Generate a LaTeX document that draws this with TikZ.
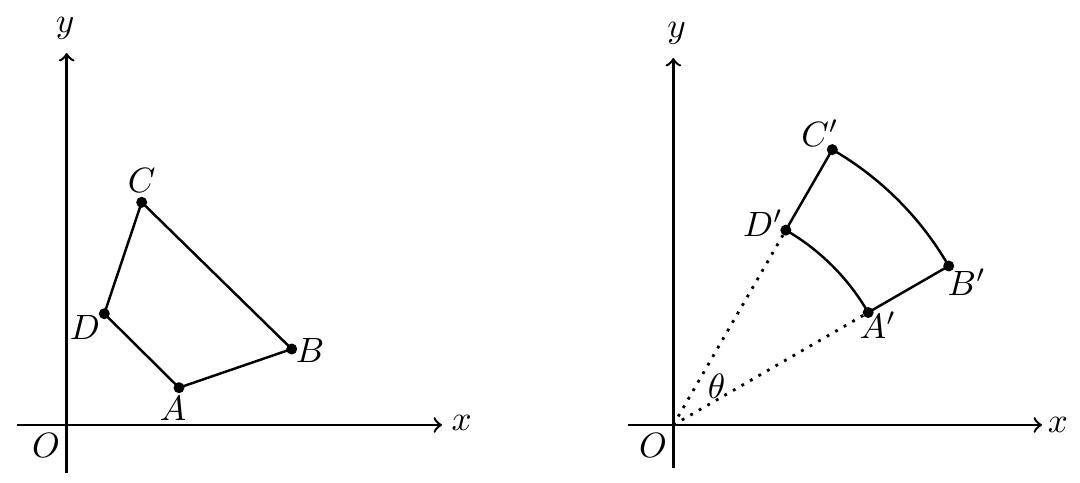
\documentclass[tikz,border=0pt]{standalone}
\usepackage{tikz}
\usetikzlibrary{calc}

\begin{document}
\begin{tikzpicture}[line width=0.7pt,
  dot/.style={circle,fill=black,inner sep=0pt,minimum size=1.1mm},
  lbl/.style={inner sep=1pt}]
\useasboundingbox (0,0) rectangle (10.8,4.82);
% left picture
\coordinate (O1) at (0.667,0.57);
\coordinate (x1s) at (0.17,0.57);
\coordinate (x1e) at (4.42,0.57);
\coordinate (y1s) at (0.667,0.09);
\coordinate (y1e) at (0.667,4.29);
\draw[->] (x1s)--(x1e);
\draw[->] (y1s)--(y1e);
\node[lbl] (lx1) at (4.617,0.59) {$x$};
\node[lbl] (ly1) at (0.65,4.54) {$y$};
\node[lbl] (lO1) at (0.46,0.37) {$O$};

\node[dot] (A) at (1.79,0.943) {};
\node[dot] (B) at (2.917,1.33) {};
\node[dot] (C) at (1.417,2.797) {};
\node[dot] (D) at (1.043,1.683) {};
\node[lbl] (lA) at (1.73,0.74) {$A$};
\node[lbl] (lB) at (3.10,1.32) {$B$};
\node[lbl] (lC) at (1.417,3.02) {$C$};
\node[lbl] (lD) at (0.85,1.55) {$D$};

\draw (A.center)--(B.center)--(C.center)--(D.center)--(A.center);

% right picture
\coordinate (O2) at (6.733,0.57);
\coordinate (x2s) at (6.28,0.57);
\coordinate (x2e) at (10.42,0.57);
\coordinate (y2s) at (6.733,0.14);
\coordinate (y2e) at (6.733,4.24);
\draw[->] (x2s)--(x2e);
\draw[->] (y2s)--(y2e);
\node[lbl] (lx2) at (10.58,0.57) {$x$};
\node[lbl] (ly2) at (6.767,4.49) {$y$};
\node[lbl] (lO2) at (6.53,0.37) {$O$};

\node[dot] (A1) at ($(O2)+(30:2.25)$) {};
\node[dot] (D1) at ($(O2)+(60:2.25)$) {};
\node[dot] (B1) at ($(O2)+(30:3.18)$) {};
\node[dot] (C1) at ($(O2)+(60:3.18)$) {};
\node[lbl] (lA1) at (8.78,1.57) {$A'$};
\node[lbl] (lB1) at (9.667,2.00) {$B'$};
\node[lbl] (lC1) at (8.20,3.49) {$C'$};
\node[lbl] (lD1) at (7.63,2.59) {$D'$};
\node[lbl] (lth) at (7.167,0.953) {$\theta$};

\draw[dotted,line width=0.8pt] (O2)--(D1.center);
\draw[dotted,line width=0.8pt] (O2)--(A1.center);
\draw (D1.center) arc[start angle=60,end angle=30,radius=2.25]
  -- (B1.center) arc[start angle=30,end angle=60,radius=3.18] -- (D1.center);
\end{tikzpicture}
\end{document}
